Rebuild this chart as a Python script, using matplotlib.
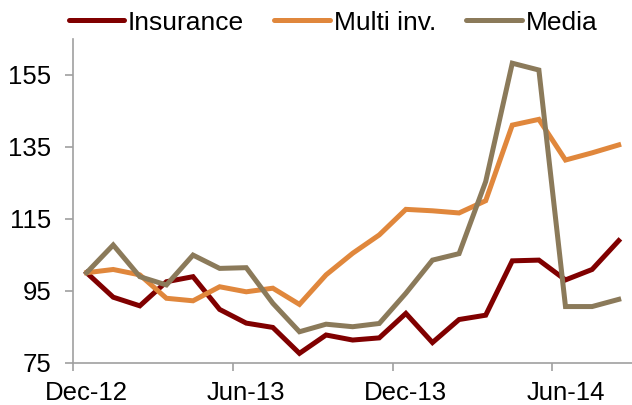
import matplotlib
matplotlib.use("Agg")
import matplotlib.pyplot as plt
import numpy as np

plt.rcParams['font.family'] = ['Liberation Sans', 'DejaVu Sans']

months = ['Dec-12', 'Jan-13', 'Feb-13', 'Mar-13', 'Apr-13', 'May-13', 'Jun-13',
          'Jul-13', 'Aug-13', 'Sep-13', 'Oct-13', 'Nov-13', 'Dec-13', 'Jan-14',
          'Feb-14', 'Mar-14', 'Apr-14', 'May-14', 'Jun-14', 'Jul-14', 'Aug-14']

insurance = [100, 93.2, 90.8, 97.5, 98.9, 89.8, 86.0, 84.8, 77.6, 82.7, 81.3,
             81.9, 88.7, 80.6, 87.0, 88.2, 103.3, 103.5, 98.0, 100.9, 108.9]
multi_inv = [100, 100.9, 99.4, 92.9, 92.2, 96.1, 94.7, 95.7, 91.2, 99.4, 105.4,
             110.5, 117.6, 117.2, 116.6, 120.0, 141.0, 142.6, 131.3, 133.3, 135.5]
media = [100, 107.7, 98.9, 96.6, 104.9, 101.2, 101.4, 91.5, 83.6, 85.7, 85.0,
         85.9, 94.3, 103.5, 105.3, 125.3, 158.2, 156.3, 90.6, 90.6, 92.6]

series = [('Insurance', insurance, '#800000'),
          ('Multi inv.', multi_inv, '#E0873C'),
          ('Media', media, '#8B7A5A')]

fig = plt.figure(figsize=(6.32, 4.05), dpi=100)
ax = fig.add_axes([0.116, 0.1044, 0.884, 0.80])

x = np.arange(len(months))
for name, vals, col in series:
    ax.plot(x, vals, color=col, lw=3.6, label=name, solid_joinstyle='miter')

ax.set_xlim(-0.5, len(months) - 0.5)
ax.set_ylim(75, 165)
ax.set_yticks([75, 95, 115, 135, 155])

# tick marks between categories, labels on category centres
label_idx = [0, 6, 12, 18]
ax.set_xticks([i - 0.5 for i in label_idx])
ax.set_xticklabels([])
ax.set_xticks(label_idx, minor=True)
ax.set_xticklabels([months[i] for i in label_idx], minor=True)

grey = '#A0A0A0'
for s in ['top', 'right']:
    ax.spines[s].set_visible(False)
for s in ['left', 'bottom']:
    ax.spines[s].set_color(grey)
    ax.spines[s].set_linewidth(1.2)

ax.tick_params(axis='both', which='major', color=grey, width=1.2, length=5.5,
               labelsize=18.5)
ax.tick_params(axis='y', pad=10.5)
ax.tick_params(axis='x', which='minor', length=0, labelsize=18.5, pad=13)

leg = fig.legend(loc='center', bbox_to_anchor=(0.527, 0.944), ncol=3,
                 frameon=False, fontsize=19, handlelength=2.1,
                 handletextpad=0.15, columnspacing=1.15, borderpad=0)
for h in leg.get_lines():
    h.set_linewidth(3.6)
    h.set_solid_capstyle('round')

fig.savefig('out.png', dpi=100)
